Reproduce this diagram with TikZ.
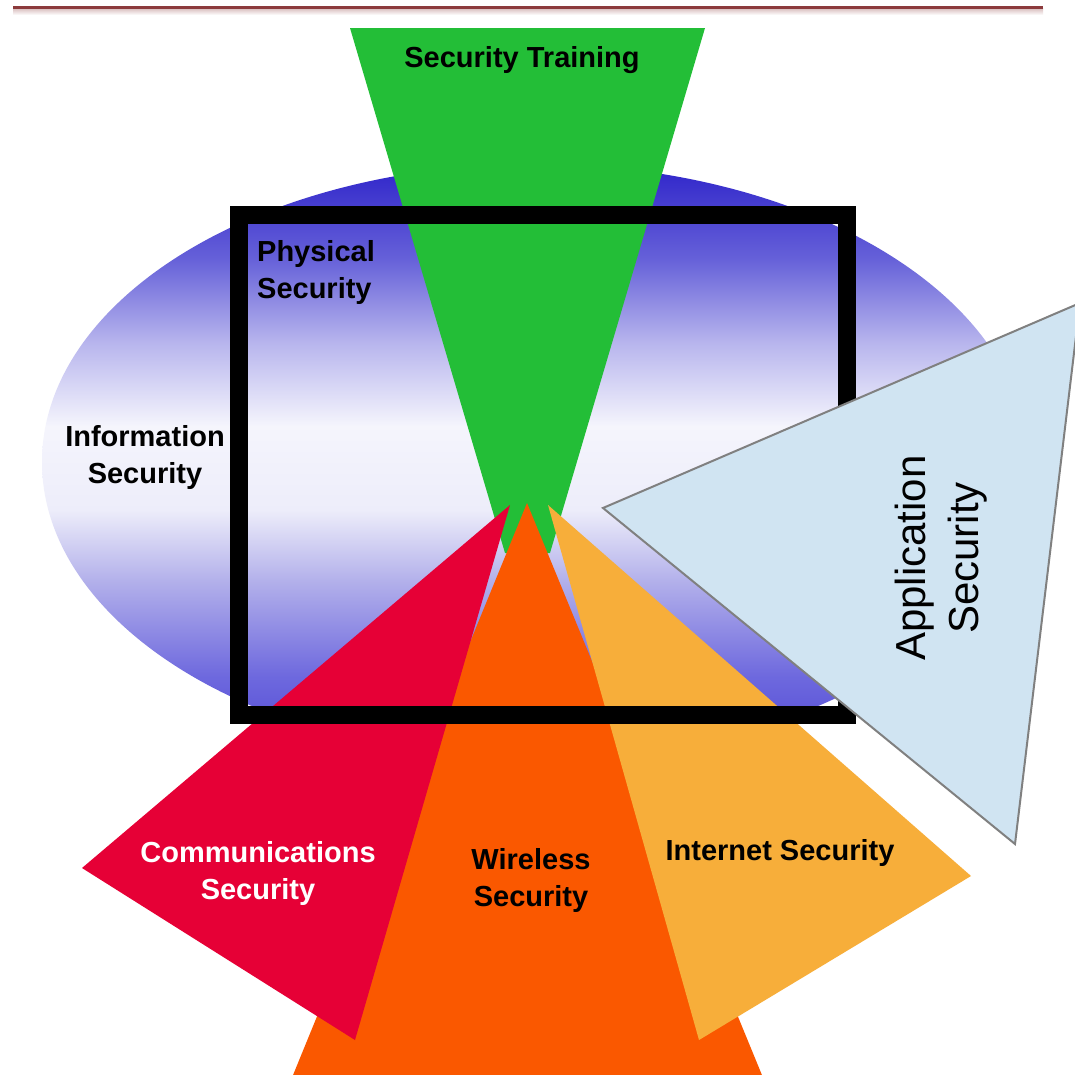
\documentclass[tikz,border=0pt]{standalone}
\usepackage{fontspec}
\setmainfont{Liberation Sans}
% vertical blend of the oval: blue rim, pale centre band
\pgfdeclareverticalshading{ovalshade}{100bp}{%
  rgb(0bp)=(0.30,0.27,0.83);
  rgb(25bp)=(0.30,0.27,0.83);
  rgb(32bp)=(0.43,0.41,0.87);
  rgb(40bp)=(0.70,0.69,0.92);
  rgb(46bp)=(0.93,0.93,0.98);
  rgb(53bp)=(0.96,0.96,0.99);
  rgb(60bp)=(0.72,0.71,0.93);
  rgb(67bp)=(0.40,0.38,0.85);
  rgb(75bp)=(0.18,0.14,0.79);
  rgb(100bp)=(0.18,0.14,0.79)}
\begin{document}
\begin{tikzpicture}[x=1pt,y=-1pt,
  lbl/.style={font=\fontsize{29}{37}\selectfont\bfseries, align=center, inner sep=0pt}]
\definecolor{rule}{RGB}{140,58,60}
\definecolor{trainG}{RGB}{35,190,55}
\definecolor{commR}{RGB}{230,0,54}
\definecolor{wireO}{RGB}{250,88,0}
\definecolor{netY}{RGB}{247,174,58}
\definecolor{appB}{RGB}{208,228,242}
\definecolor{appEdge}{RGB}{128,128,128}

\useasboundingbox (0,0) rectangle (1075,1074);
\clip (0,0) rectangle (1075,1074);
\fill[white] (0,0) rectangle (1075,1074);

% header rule with its soft shadow
\shade[top color=rule!35, bottom color=white] (13,8) rectangle (1043,15);
\draw[rule, line width=3] (13,7) -- (1043,7);

% information security oval
\shade[shading=ovalshade] (535,462) ellipse [x radius=493, y radius=298];

% security training wedge
\fill[trainG] (350,28) -- (705,28) -- (550,553) -- (505,553) -- cycle;

% wireless, communications and internet wedges
\fill[wireO] (527,503) -- (764,1080) -- (291,1080) -- cycle;
\fill[commR] (510,505) -- (355,1040) -- (82,868) -- cycle;
\fill[netY] (548,505) -- (971,876) -- (699,1040) -- cycle;

% physical security frame
\draw[black, line width=18] (239,215) rectangle (847,715);

% application security triangle
\filldraw[fill=appB, draw=appEdge, line width=2, line join=miter]
  (603,508) -- (1080,303) -- (1015,844) -- cycle;

% labels
\node[lbl] (training) at (522,60) {Security Training};
\node[lbl, align=left] (physical) at (316,272) {Physical\\Security};
\node[lbl] (information) at (145,457) {Information\\Security};
\node[lbl, text=white] (comms) at (258,873) {Communications\\Security};
\node[lbl] (wireless) at (531,880) {Wireless\\Security};
\node[lbl] (internet) at (780,853) {Internet Security};
\node[font=\fontsize{42}{53}\selectfont, align=center, rotate=90, inner sep=0pt]
  (application) at (941,558) {Application\\Security};
\end{tikzpicture}
\end{document}
